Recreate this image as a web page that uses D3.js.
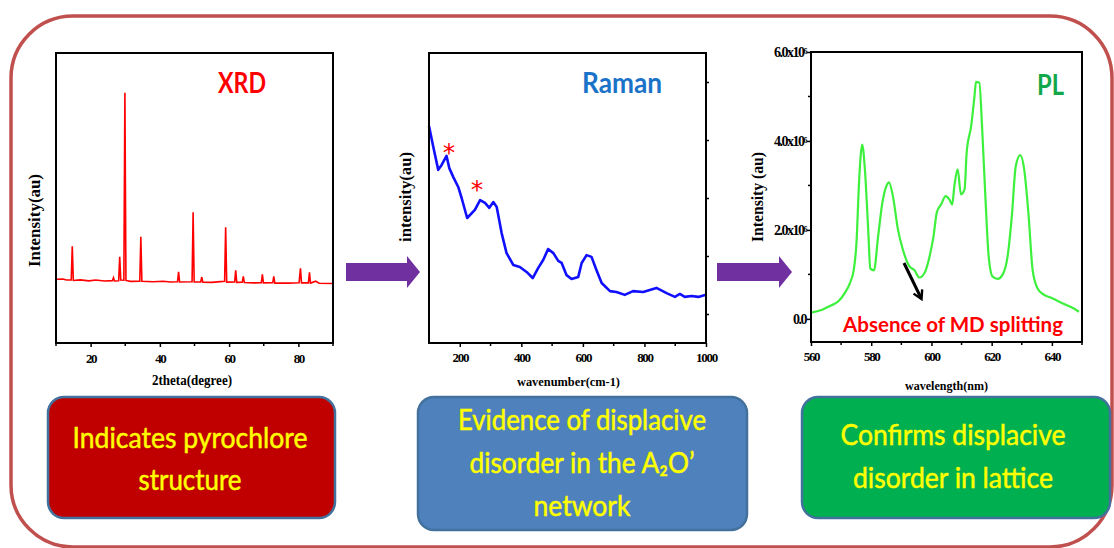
<!DOCTYPE html>
<html lang="en">
<head>
<meta charset="UTF-8">
<title>XRD Raman PL</title>
<style>
    body { margin: 0; background: #fff; }
    .frame { fill: none; stroke: #000; stroke-width: 2; }
    .tick text { font-family: "Liberation Serif", serif; font-weight: bold; font-size: 13px; letter-spacing: -1.3px; }
    .axlab { font-family: "Liberation Serif", serif; font-weight: bold; }
    .title { font-family: Lato, "Liberation Sans", sans-serif; font-weight: bold; }
    .boxtext { font-family: Lato, "Liberation Sans", sans-serif; fill: #ffff00; stroke: #ffff00; stroke-width: 0.5; font-size: 29px; }
</style>
<script src="https://d3js.org/d3.v7.min.js"></script>
</head>
<body>
<script>
// XRD pattern: [2theta, relative intensity]
const xrdPoints = [
    [10, 1.6], [12, 1.8], [13, 1.2], [14.4, 1.2], [14.7, 19], [15.0, 1.0], [17, 1.3], [19.5, 0.8],
    [21.5, 1.2], [24, 0.7], [26.3, 0.9], [26.6, 2.4], [26.9, 0.7], [28.1, 0.8], [28.4, 13.5], [28.7, 1.2],
    [29.6, 1.1], [29.9, 100], [30.2, 1.0], [31.5, 0.5], [34.2, 0.6], [34.5, 24], [34.8, 0.6], [38, 0.3],
    [41, 0.6], [43, 0.2], [45.1, 0.3], [45.4, 5.5], [45.7, 0.2], [49.3, 0.3], [49.6, 37], [49.9, 0.2],
    [51.8, 0.2], [52.1, 2.8], [52.4, 0.1], [55, 0], [57.5, 0.4], [58.7, 0.6], [59.0, 29], [59.3, 0.1],
    [61.6, 0.2], [61.9, 6.3], [62.2, 0], [63.8, 0.1], [64.1, 3.2], [64.4, -0.1], [67, -0.3], [69.3, -0.2],
    [69.6, 4.2], [69.9, -0.3], [72.6, -0.2], [72.9, 3.2], [73.2, -0.4], [77, -0.4], [80.2, -0.2], [80.6, 7.4],
    [80.9, -0.3], [82.9, -0.3], [83.2, 5.3], [83.5, -0.4], [85, 0.6], [86, -0.5], [90, -0.6]
];
const xrdTicks = [20, 40, 60, 80];
const xrdMinor = [10, 30, 50, 70, 90];

// Raman spectrum: [wavenumber cm-1, normalised intensity]
const ramanPoints = [
    [100, 0.748], [114, 0.676], [130, 0.597], [141, 0.614], [157, 0.645], [166, 0.603], [179, 0.572],
    [195, 0.538], [206, 0.5], [224, 0.431], [249, 0.459], [266, 0.493], [282, 0.483], [296, 0.466],
    [309, 0.486], [320, 0.469], [336, 0.379], [352, 0.31], [374, 0.269], [395, 0.262], [417, 0.245],
    [437, 0.224], [455, 0.259], [471, 0.286], [487, 0.324], [504, 0.31], [520, 0.283], [531, 0.276],
    [547, 0.234], [563, 0.221], [585, 0.228], [596, 0.276], [612, 0.303], [628, 0.297], [644, 0.252],
    [661, 0.207], [688, 0.179], [709, 0.176], [736, 0.166], [763, 0.179], [796, 0.176], [839, 0.19],
    [872, 0.172], [899, 0.159], [915, 0.169], [931, 0.159], [953, 0.162], [975, 0.159], [1000, 0.166]
];
const ramanStars = [[165, 0.676], [256, 0.548]];
const ramanTicks = [200, 400, 600, 800, 1000];
const ramanMinor = [300, 500, 700, 900];
const ramanYTicks = [0.1, 0.3, 0.5, 0.7, 0.9];

// PL emission: [wavelength nm, intensity x10^6]
const plPoints = [
    [560, 0.14], [563.5, 0.2], [566.3, 0.29], [569, 0.39], [571.2, 0.58], [572.9, 0.8], [574.2, 1.1],
    [575.1, 1.71], [576, 3.13], [577, 3.92], [577.9, 3.36], [579, 2.0], [579.7, 1.13], [580.9, 1.09],
    [582.3, 1.86], [583.7, 2.61], [585, 2.98], [585.9, 3.07], [587.2, 2.76], [588.9, 2.0], [590.5, 1.56],
    [592.7, 1.18], [594.4, 1.09], [596, 0.93], [597.7, 1.03], [599.4, 1.41], [600.7, 1.86], [601.8, 2.4],
    [603.2, 2.57], [604.7, 2.76], [606, 2.68], [606.9, 2.57], [607.6, 2.98], [608.7, 3.36], [609.8, 2.8],
    [611, 2.91], [611.7, 3.74], [613.2, 4.34], [614.3, 5.01], [614.8, 5.33], [615.9, 5.31], [616.8, 4.34],
    [617.9, 2.76], [619, 1.41], [620.3, 0.95], [622, 0.9], [623.6, 0.99], [625.3, 1.41], [626.7, 2.31],
    [628, 3.43], [629.5, 3.68], [630.8, 3.36], [632.2, 2.38], [633.6, 1.1], [635.2, 0.69], [637.4, 0.54],
    [639.6, 0.48], [643.5, 0.35], [646.8, 0.25], [649, 0.16]
];
const plTicks = [560, 580, 600, 620, 640];
const plMinor = [570, 590, 610, 630, 650];
const plYTicks = [0, 2, 4, 6];
const plYMinor = [1, 3, 5];

const boxTexts = [
    ["Indicates pyrochlore", "structure"],
    ["Evidence of displacive", "disorder in the A\u2082O\u2019", "network"],
    ["Confirms displacive", "disorder in lattice"]
];

const width = 1114, height = 548;
const svg = d3.select('body').append('svg').attr('width', width).attr('height', height);

// squeeze a text to the width it has in the picture
function fit(sel, w) {
    return sel.attr('textLength', w).attr('lengthAdjust', 'spacingAndGlyphs');
}

// outer rounded frame
svg.append('rect').attr('x', 11).attr('y', 16).attr('width', 1101).attr('height', 531)
    .attr('rx', 62).attr('fill', 'none').attr('stroke', '#c0504d').attr('stroke-width', 3.5);

function minorTicks(g, scale, vals, orient, y) {
    vals.forEach(v => {
        if (orient === 'bottom') {
            g.append('line').attr('x1', scale(v)).attr('x2', scale(v)).attr('y1', y).attr('y2', y + 3)
                .attr('stroke', '#000').attr('stroke-width', 1.5);
        } else {
            g.append('line').attr('y1', scale(v)).attr('y2', scale(v)).attr('x1', y).attr('x2', y - 3)
                .attr('stroke', '#000').attr('stroke-width', 1.5);
        }
    });
}

function styleAxis(g) {
    g.select('.domain').remove();
    g.selectAll('.tick line').attr('stroke-width', 1.5);
}

// ---------- XRD ----------
const xr = { x0: 56, x1: 333, y0: 53, y1: 343 };
const xX = d3.scaleLinear().domain([10, 90]).range([xr.x0, xr.x1]);
const xY = d3.scaleLinear().domain([-32, 121]).range([xr.y1, xr.y0]);
const gx = svg.append('g');
gx.append('path').datum(xrdPoints)
    .attr('d', d3.line().x(d => xX(d[0])).y(d => xY(d[1])))
    .attr('fill', 'none').attr('stroke', '#ff0000').attr('stroke-width', 1.6);
gx.append('rect').attr('class', 'frame').attr('x', xr.x0).attr('y', xr.y0)
    .attr('width', xr.x1 - xr.x0).attr('height', xr.y1 - xr.y0);
gx.append('g').attr('transform', `translate(0,${xr.y1})`)
    .call(d3.axisBottom(xX).tickValues(xrdTicks).tickSize(4).tickPadding(7).tickFormat(d3.format('d')))
    .call(styleAxis);
minorTicks(gx, xX, xrdMinor, 'bottom', xr.y1);
fit(gx.append('text').attr('class', 'axlab').attr('x', 152).attr('y', 385)
    .style('font-size', '14px').text('2theta(degree)'), 80);
fit(gx.append('text').attr('class', 'axlab').attr('transform', 'translate(40,267) rotate(-90)')
    .style('font-size', '16px').text('Intensity(au)'), 93);
fit(gx.append('text').attr('class', 'title').attr('x', 218).attr('y', 93)
    .attr('fill', '#ff0000').style('font-size', '29px').text('XRD'), 48);

// ---------- Raman ----------
const rr = { x0: 429, x1: 706, y0: 53, y1: 343 };
const rX = d3.scaleLinear().domain([100, 1000]).range([rr.x0, rr.x1]);
const rY = d3.scaleLinear().domain([0, 1]).range([rr.y1, rr.y0]);
const gr = svg.append('g');
gr.append('path').datum(ramanPoints)
    .attr('d', d3.line().x(d => rX(d[0])).y(d => rY(d[1])))
    .attr('fill', 'none').attr('stroke', '#1010ff').attr('stroke-width', 2.6).attr('stroke-linejoin', 'round');
gr.append('rect').attr('class', 'frame').attr('x', rr.x0).attr('y', rr.y0)
    .attr('width', rr.x1 - rr.x0).attr('height', rr.y1 - rr.y0);
gr.append('g').attr('transform', `translate(0,${rr.y1})`)
    .call(d3.axisBottom(rX).tickValues(ramanTicks).tickSize(4).tickPadding(6).tickFormat(d3.format('d')))
    .call(styleAxis);
minorTicks(gr, rX, ramanMinor, 'bottom', rr.y1);
gr.append('g').attr('transform', `translate(${rr.x1},0)`)
    .call(d3.axisRight(rY).tickValues(ramanYTicks).tickSize(3).tickFormat(''))
    .call(styleAxis);
gr.selectAll('.star').data(ramanStars).join('text')
    .attr('x', d => rX(d[0])).attr('y', d => rY(d[1]) + 14).attr('text-anchor', 'middle')
    .attr('fill', '#ff0000').style('font-family', 'DejaVu Sans').style('font-size', '25px').text('*');
fit(gr.append('text').attr('class', 'axlab').attr('x', 517).attr('y', 386)
    .style('font-size', '13px').text('wavenumber(cm-1)'), 103);
fit(gr.append('text').attr('class', 'axlab').attr('transform', 'translate(411,242) rotate(-90)')
    .style('font-size', '16px').text('intensity(au)'), 90);
fit(gr.append('text').attr('class', 'title').attr('x', 582).attr('y', 93)
    .attr('fill', '#1a73c8').style('font-size', '29px').text('Raman'), 80);

// ---------- PL ----------
const pr = { x0: 811, x1: 1082, y0: 52, y1: 342 };
const pX = d3.scaleLinear().domain([560, 650]).range([pr.x0, pr.x1]);
const pY = d3.scaleLinear().domain([-0.52, 6.0]).range([pr.y1, pr.y0]);
const gp = svg.append('g');
gp.append('path').datum(plPoints)
    .attr('d', d3.line().curve(d3.curveMonotoneX).x(d => pX(d[0])).y(d => pY(d[1])))
    .attr('fill', 'none').attr('stroke', '#3cf03c').attr('stroke-width', 2.2);
gp.append('rect').attr('class', 'frame').attr('x', pr.x0).attr('y', pr.y0)
    .attr('width', pr.x1 - pr.x0).attr('height', pr.y1 - pr.y0);
gp.append('g').attr('transform', `translate(0,${pr.y1})`)
    .call(d3.axisBottom(pX).tickValues(plTicks).tickSize(4).tickPadding(6).tickFormat(d3.format('d')))
    .call(styleAxis);
minorTicks(gp, pX, plMinor, 'bottom', pr.y1);
const yAx = gp.append('g').attr('transform', `translate(${pr.x0},0)`)
    .call(d3.axisLeft(pY).tickValues(plYTicks).tickSize(4).tickPadding(2).tickFormat(''))
    .call(styleAxis);
minorTicks(gp, pY, plYMinor, 'left', pr.x0);
yAx.selectAll('.tick').each(function (d) {
    const t = d3.select(this).append('text').attr('x', -5).attr('dy', '0.35em')
        .attr('text-anchor', 'end').attr('fill', '#000').style('font-size', '14px').style('letter-spacing', '-1.5px');
    if (d === 0) {
        t.text('0.0');
    } else {
        t.text(d.toFixed(1) + 'x10');
        t.append('tspan').attr('dy', '-0.45em').style('font-size', '8px').text('6');
    }
});
fit(gp.append('text').attr('class', 'axlab').attr('x', 905).attr('y', 390)
    .style('font-size', '13px').text('wavelength(nm)'), 83);
fit(gp.append('text').attr('class', 'axlab').attr('transform', 'translate(763,242) rotate(-90)')
    .style('font-size', '16px').text('Intensity (au)'), 90);
fit(gp.append('text').attr('class', 'title').attr('x', 1037).attr('y', 95)
    .attr('fill', '#12a84a').style('font-size', '29px').text('PL'), 27);
fit(gp.append('text').attr('class', 'title').attr('x', 843).attr('y', 332)
    .attr('fill', '#ff0000').style('font-size', '21px').text('Absence of MD splitting'), 220);

// black arrow pointing to the flat MD band
const defs = svg.append('defs');
defs.append('marker').attr('id', 'blk').attr('viewBox', '0 0 10 10').attr('refX', 7).attr('refY', 5)
    .attr('markerWidth', 4).attr('markerHeight', 4).attr('orient', 'auto')
    .append('path').attr('d', 'M1,1 L8,5 L1,9').attr('fill', 'none').attr('stroke', '#000').attr('stroke-width', 2);
gp.append('line').attr('x1', 904).attr('y1', 263).attr('x2', 921).attr('y2', 298)
    .attr('stroke', '#000').attr('stroke-width', 3).attr('marker-end', 'url(#blk)');

// purple block arrows
const arrows = [[346, 420, 272], [717, 792, 272]];
arrows.forEach(([a, b, cy]) => {
    const hx = b - 13;
    svg.append('path')
        .attr('d', `M${a},${cy - 9} L${hx},${cy - 9} L${hx},${cy - 16} L${b},${cy} L${hx},${cy + 16} L${hx},${cy + 9} L${a},${cy + 9} Z`)
        .attr('fill', '#7030a0');
});

// description boxes; widths of each text line as measured on the picture
const boxes = [
    { x: 48, y: 397, w: 287, h: 121, fill: '#c00000', cx: 190, base: 448, lh: 42, tw: [235, 103] },
    { x: 418, y: 397, w: 329, h: 133, fill: '#4f81bd', cx: 582, base: 430, lh: 43, tw: [248, 225, 97] },
    { x: 802, y: 397, w: 308, h: 121, fill: '#00b050', cx: 953, base: 445, lh: 43, tw: [225, 200] }
];
boxes.forEach((b, i) => {
    svg.append('rect').attr('x', b.x).attr('y', b.y).attr('width', b.w).attr('height', b.h)
        .attr('rx', 16).attr('fill', b.fill).attr('stroke', '#41719c').attr('stroke-width', 2.5);
    boxTexts[i].forEach((line, j) => {
        fit(svg.append('text').attr('class', 'boxtext').attr('x', b.cx - b.tw[j] / 2).attr('y', b.base + j * b.lh)
            .text(line), b.tw[j]);
    });
});
</script>
</body>
</html>
